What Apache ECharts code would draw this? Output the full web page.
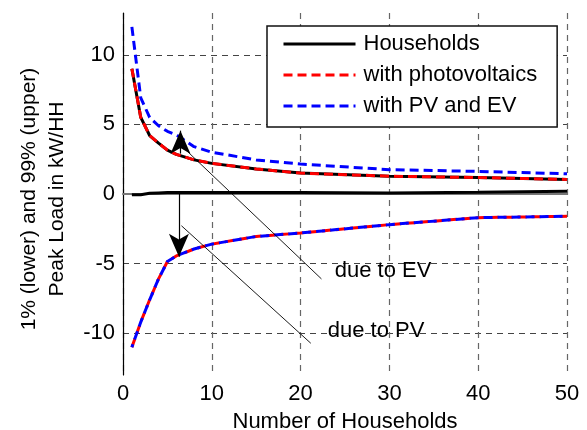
<!DOCTYPE html>
<html>
<head>
<meta charset="utf-8">
<title>Peak load per household</title>
<script src="https://cdn.jsdelivr.net/npm/echarts@6.0.0/dist/echarts.min.js"></script>
<style>
body{margin:0;padding:0;background:#fff;}
#chart{width:587px;height:430px;}
</style>
</head>
<body>
<div id="chart"></div>
<script>
// number of households
var households = [1, 2, 3, 4, 5, 6, 8, 10, 15, 20, 30, 40, 50];
// 99% upper peak load, kW/HH
var hhUpper = [9.0, 5.5, 4.2, 3.65, 3.15, 2.85, 2.45, 2.2, 1.8, 1.5, 1.28, 1.18, 1.05];
var evUpper = [12.0, 6.9, 5.5, 4.9, 4.5, 4.25, 3.4, 3.0, 2.45, 2.15, 1.75, 1.62, 1.45];
// 1% lower peak load, kW/HH
var hhLower = [-0.05, -0.05, 0.05, 0.08, 0.1, 0.1, 0.1, 0.1, 0.1, 0.1, 0.08, 0.12, 0.19];
var pvLower = [-11.0, -9.2, -7.6, -6.1, -4.85, -4.45, -3.95, -3.6, -3.05, -2.8, -2.2, -1.7, -1.6];
var yTicks = [-10, -5, 0, 5, 10];

// arrows and annotation lines [x1, y1, x2, y2]
var arrowEV = [6.47, 2.9, 6.47, 4.55];
var arrowPV = [6.3, 0, 6.3, -4.5];
var pointerEV = [6.95, 3.24, 22.35, -6.1];
var pointerPV = [6.58, -2.28, 21.15, -10.72];
var notes = [['due to EV', 23.85, -5.5], ['due to PV', 23.06, -9.8]];

function pairs(ys){
  return households.map(function(x, i){ return [x, ys[i]]; });
}
function segment(s, arrow){
  return [
    {coord: [s[0], s[1]], symbol: 'none'},
    {coord: [s[2], s[3]], symbol: arrow ? 'arrow' : 'none', symbolSize: arrow ? [15, 23] : 0,
     lineStyle: {width: arrow ? 1.2 : 0.9}}
  ];
}

var font = 'Liberation Sans, Arial, sans-serif';
var myChart = echarts.init(document.getElementById('chart'));

myChart.setOption({
  animation: false,
  textStyle: {fontFamily: font, color: '#000'},
  grid: {left: 123, right: 20, top: 13, bottom: 55, outerBoundsMode: 'none', containLabel: false},
  legend: {
    orient: 'vertical',
    left: 267, top: 26,
    padding: [7, 20, 10, 15],
    itemWidth: 72, itemHeight: 22, itemGap: 9,
    backgroundColor: '#fff',
    borderColor: '#111', borderWidth: 1.5, borderRadius: 0,
    itemStyle: {opacity: 0},
    lineStyle: {width: 3},
    textStyle: {fontSize: 22, fontFamily: font, color: '#000', padding: [0, 0, 0, 3]},
    data: ['Households', 'with photovoltaics', 'with PV and EV']
  },
  xAxis: {
    type: 'value', min: 0, max: 50, interval: 10,
    name: 'Number of Households', nameLocation: 'middle', nameGap: 36,
    nameTextStyle: {fontSize: 22, fontFamily: font, color: '#000'},
    axisLine: {lineStyle: {color: '#777', width: 2}},
    axisTick: {show: false},
    axisLabel: {fontSize: 22, color: '#000', margin: 8, fontFamily: font},
    splitLine: {show: true, lineStyle: {color: '#666', type: [6, 5], width: 1.2}}
  },
  yAxis: {
    type: 'value', min: -13, max: 13,
    name: '1% (lower) and 99% (upper)\nPeak Load in kW/HH',
    nameLocation: 'middle', nameRotate: 90, nameGap: 52,
    nameTextStyle: {fontSize: 21, lineHeight: 28, fontFamily: font, color: '#000', align: 'center',
                    padding: [0, 10, 0, 0]},
    axisLine: {show: true, onZero: false, lineStyle: {color: '#000', width: 1.2}},
    axisTick: {show: false, customValues: yTicks},
    axisLabel: {fontSize: 22, color: '#000', margin: 8, fontFamily: font, customValues: yTicks},
    splitLine: {show: true, lineStyle: {color: '#444', type: [6, 5], width: 1.2}}
  },
  series: [
    {name: 'Households', type: 'line', symbol: 'none', data: pairs(hhUpper),
     lineStyle: {color: '#000', width: 3}, itemStyle: {color: '#000'},
     markLine: {
       silent: true, animation: false, label: {show: false},
       lineStyle: {color: '#000', type: 'solid', width: 1},
       data: [segment(arrowEV, true), segment(arrowPV, true), segment(pointerEV, false), segment(pointerPV, false)]
     },
     markPoint: {
       silent: true, symbol: 'circle', symbolSize: 0,
       label: {show: true, position: 'right', distance: 0, fontSize: 22, fontFamily: font, color: '#000',
               formatter: function(p){ return p.name; }},
       data: notes.map(function(n){ return {name: n[0], coord: [n[1], n[2]]}; })
     }},
    {name: 'Households', type: 'line', symbol: 'none', data: pairs(hhLower),
     lineStyle: {color: '#000', width: 3}, itemStyle: {color: '#000'}},
    {name: 'with photovoltaics', type: 'line', symbol: 'none', data: pairs(hhUpper),
     lineStyle: {color: '#ff0000', width: 3, type: [9, 5]}, itemStyle: {color: '#ff0000'}},
    {name: 'with photovoltaics', type: 'line', symbol: 'none', data: pairs(pvLower),
     lineStyle: {color: '#ff0000', width: 3, type: [9, 5]}, itemStyle: {color: '#ff0000'}},
    {name: 'with PV and EV', type: 'line', symbol: 'none', data: pairs(evUpper),
     lineStyle: {color: '#0000ff', width: 3, type: [9, 5]}, itemStyle: {color: '#0000ff'}},
    {name: 'with PV and EV', type: 'line', symbol: 'none', data: pairs(pvLower),
     lineStyle: {color: '#0000ff', width: 3, type: [9, 5], dashOffset: 6}, itemStyle: {color: '#0000ff'}}
  ]
});
</script>
</body>
</html>
